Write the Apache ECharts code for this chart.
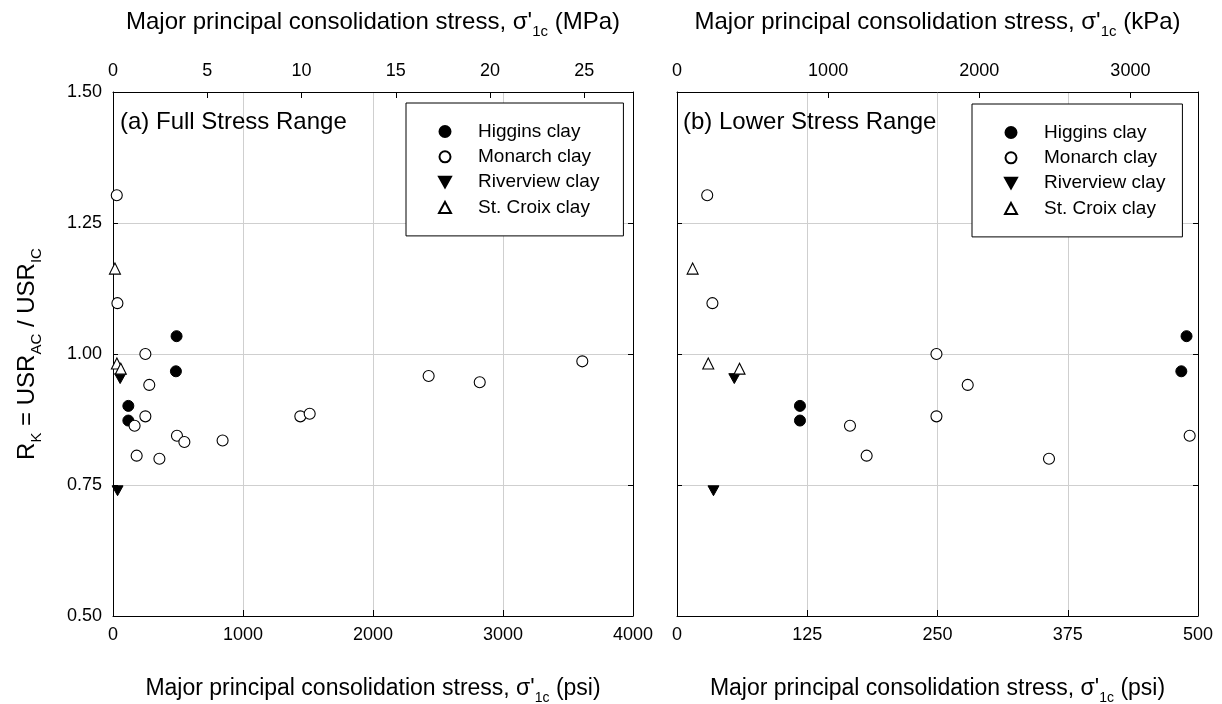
<!DOCTYPE html>
<html>
<head>
<meta charset="utf-8">
<script src="https://cdn.jsdelivr.net/npm/echarts@6/dist/echarts.min.js"></script>
<style>
html,body{margin:0;padding:0;background:#fff;}
#c{width:1222px;height:704px;}
</style>
</head>
<body>
<div id="c"></div>
<script>
// ---- data (x = major principal consolidation stress in psi, y = R_K) ----
const seriesNames = ['Higgins clay', 'Monarch clay', 'Riverview clay', 'St. Croix clay'];
const higgins = [[118, 0.901], [118, 0.873], [484, 0.967], [489, 1.034]];
const monarch = [[29, 1.303], [34, 1.097], [249, 1.000], [279, 0.941], [249, 0.881], [166, 0.863],
  [492, 0.844], [549, 0.832], [182, 0.806], [357, 0.800], [843, 0.835], [1441, 0.881],
  [1513, 0.886], [2428, 0.958], [2821, 0.946], [3610, 0.986]];
const riverview = [[55, 0.953], [35, 0.739]];
const stcroix = [[15, 1.163], [30, 0.982], [60, 0.972]];
const yTicks = [0.50, 0.75, 1.00, 1.25, 1.50];
const psiFullMax = 4000, psiLowMax = 500;
const MPA_PER_PSI = 0.00689476, KPA_PER_PSI = 6.89476;
const panelLabels = ['(a) Full Stress Range', '(b) Lower Stress Range'];

const FONT = "'Liberation Sans', Arial, Helvetica, sans-serif";
const chart = echarts.init(document.getElementById('c'), null, {renderer: 'canvas'});

const downTri = 'path://M0,0L10,0L5,9Z';
const styles = [
  {symbol: 'circle', size: 11, itemStyle: {color: '#000', borderColor: '#000', borderWidth: 1, opacity: 1}},
  {symbol: 'circle', size: 11, itemStyle: {color: '#fff', borderColor: '#000', borderWidth: 1.1, opacity: 1}},
  {symbol: downTri, size: 11, itemStyle: {color: '#000', borderColor: '#000', borderWidth: 1, opacity: 1}},
  {symbol: 'triangle', size: 11, itemStyle: {color: '#fff', borderColor: '#000', borderWidth: 1.1, opacity: 1}}
];
const dataSets = [higgins, monarch, riverview, stcroix];

function rich(fs) {
  return {
    a: {fontSize: fs, fontFamily: FONT, color: '#000'},
    sub: {fontSize: Math.round(fs * 0.62), fontFamily: FONT, color: '#000', verticalAlign: 'bottom', padding: [0, 0, -5, 0]}
  };
}
function titleText(unit) {
  return "{a|Major principal consolidation stress, σ'}{sub|1c}{a| (" + unit + ")}";
}

const grids = [
  {left: 113, right: 1222 - 633, top: 92, bottom: 704 - 616, containLabel: false, outerBoundsMode: 'none'},
  {left: 677, right: 1222 - 1198, top: 92, bottom: 704 - 616, containLabel: false, outerBoundsMode: 'none'}
];

const gridLine = {show: true, lineStyle: {color: '#cfcfcf', width: 1}};
const axisLine = {show: true, onZero: false, lineStyle: {color: '#000', width: 1}};
const tick = (len) => ({show: true, inside: true, length: len, lineStyle: {color: '#000', width: 1}});
const lbl = (m) => ({fontSize: 18, fontFamily: FONT, color: '#000', margin: m});

const xAxes = [
  {gridIndex: 0, type: 'value', position: 'bottom', min: 0, max: psiFullMax, interval: 1000,
    axisLine, axisTick: tick(6), splitLine: gridLine, axisLabel: Object.assign(lbl(10), {formatter: v => String(v)}),
    name: titleText('psi'), nameLocation: 'middle', nameGap: 61, nameTextStyle: {rich: rich(23)}},
  {gridIndex: 1, type: 'value', position: 'bottom', min: 0, max: psiLowMax, interval: 125,
    axisLine, axisTick: tick(6), splitLine: gridLine, axisLabel: Object.assign(lbl(10), {formatter: v => String(v)}),
    name: titleText('psi'), nameLocation: 'middle', nameGap: 61, nameTextStyle: {rich: rich(23)}},
  {gridIndex: 0, type: 'value', position: 'top', min: 0, max: psiFullMax * MPA_PER_PSI, interval: 5,
    axisLine, axisTick: tick(6), splitLine: {show: false},
    axisLabel: Object.assign(lbl(12), {showMaxLabel: false, formatter: v => (Math.abs(v % 5) < 1e-6 ? String(v) : '')}),
    name: titleText('MPa'), nameLocation: 'middle', nameGap: 58, nameTextStyle: {rich: rich(24)}},
  {gridIndex: 1, type: 'value', position: 'top', min: 0, max: psiLowMax * KPA_PER_PSI, interval: 1000,
    axisLine, axisTick: tick(6), splitLine: {show: false},
    axisLabel: Object.assign(lbl(12), {showMaxLabel: false, formatter: v => (Math.abs(v % 1000) < 1e-6 ? String(v) : '')}),
    name: titleText('kPa'), nameLocation: 'middle', nameGap: 58, nameTextStyle: {rich: rich(24)}}
];

const yBase = {type: 'value', min: yTicks[0], max: yTicks[yTicks.length - 1], interval: 0.25};
const yRich = rich(24);
yRich.sub.fontSize = 15;
const yAxes = [
  Object.assign({}, yBase, {gridIndex: 0, position: 'left', axisLine, axisTick: tick(5), splitLine: gridLine,
    axisLabel: Object.assign(lbl(11), {formatter: v => v.toFixed(2)}),
    name: '{a|R}{sub|K}{a| = USR}{sub|AC}{a| / USR}{sub|IC}', nameLocation: 'middle', nameGap: 74,
    nameTextStyle: {rich: yRich}}),
  Object.assign({}, yBase, {gridIndex: 0, position: 'right', axisLine, axisTick: tick(5), splitLine: {show: false},
    axisLabel: {show: false}}),
  Object.assign({}, yBase, {gridIndex: 1, position: 'left', axisLine, axisTick: tick(5), splitLine: gridLine,
    axisLabel: {show: false}}),
  Object.assign({}, yBase, {gridIndex: 1, position: 'right', axisLine, axisTick: tick(5), splitLine: {show: false},
    axisLabel: {show: false}})
];

const series = [];
[0, 1].forEach(function (p) {
  dataSets.forEach(function (d, i) {
    series.push({
      type: 'scatter', name: seriesNames[i], xAxisIndex: p, yAxisIndex: p === 0 ? 0 : 2,
      data: d, symbol: styles[i].symbol, symbolSize: styles[i].size, symbolKeepAspect: true,
      itemStyle: styles[i].itemStyle, clip: true, z: 3, silent: true
    });
  });
});

function legendFor(left, top, rightPad) {
  return {
    show: true, orient: 'vertical', left: left, top: top,
    data: seriesNames,
    itemWidth: 12, itemHeight: 11, itemGap: 6.3,
    padding: [19, rightPad, 19, 32],
    borderColor: '#000', borderWidth: 1, backgroundColor: '#fff',
    selectedMode: false, symbolKeepAspect: true,
    itemStyle: {opacity: 1},
    textStyle: {fontSize: 19, fontFamily: FONT, color: '#000', lineHeight: 19, padding: [0, 0, 0, 22]}
  };
}

chart.setOption({
  backgroundColor: '#fff',
  animation: false,
  grid: grids,
  xAxis: xAxes,
  yAxis: yAxes,
  legend: [legendFor(406, 103, 24), legendFor(972, 104, 17)],
  series: series,
  graphic: [
    {type: 'text', left: 120, top: 110, z: 10,
      style: {text: panelLabels[0], fontSize: 24, fontFamily: FONT, fill: '#000'}},
    {type: 'text', left: 683, top: 110, z: 10,
      style: {text: panelLabels[1], fontSize: 24, fontFamily: FONT, fill: '#000'}}
  ]
});
</script>
</body>
</html>
